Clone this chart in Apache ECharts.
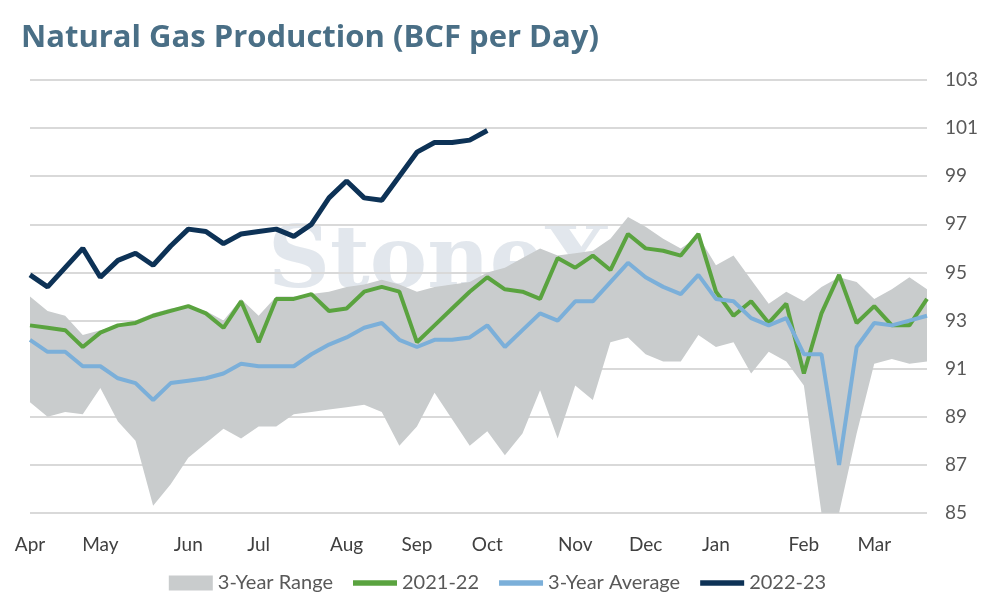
<!DOCTYPE html>
<html>
<head>
<meta charset="utf-8">
<script src="https://cdn.jsdelivr.net/npm/echarts@6/dist/echarts.min.js"></script>
<style>html,body{margin:0;padding:0;background:#fff}#main{width:995px;height:606px}</style>
</head>
<body>
<div id="main"></div>
<script>
// month label positions on 52 weekly points
var monthAt = {0: 'Apr', 4: 'May', 9: 'Jun', 13: 'Jul', 18: 'Aug', 22: 'Sep', 26: 'Oct',
    31: 'Nov', 35: 'Dec', 39: 'Jan', 44: 'Feb', 48: 'Mar'};
var weeks = [];
for (var i = 0; i < 52; i++) weeks.push(monthAt[i] || '');

var rangeLow = [89.6, 89.0, 89.2, 89.1, 90.2, 88.8, 88.0, 85.3, 86.2, 87.3, 87.9, 88.5, 88.1, 88.6,
    88.6, 89.1, 89.2, 89.3, 89.4, 89.5, 89.2, 87.8, 88.6, 90.0, 88.9, 87.8, 88.4, 87.4, 88.3, 90.1,
    88.1, 90.3, 89.7, 92.1, 92.3, 91.6, 91.3, 91.3, 92.4, 91.9, 92.1, 90.8, 91.7, 91.3, 90.3, 85.0,
    85.0, 88.3, 91.2, 91.4, 91.2, 91.3];
var rangeHigh = [94.0, 93.4, 93.2, 92.4, 92.6, 92.8, 93.0, 93.3, 93.5, 93.6, 93.4, 93.0, 93.9, 93.2,
    94.0, 94.0, 94.1, 94.2, 94.4, 94.5, 94.7, 94.5, 94.2, 94.4, 94.5, 94.6, 95.0, 95.2, 95.6, 96.0,
    95.7, 95.8, 95.9, 96.4, 97.3, 96.9, 96.4, 96.0, 96.5, 95.3, 95.7, 94.7, 93.7, 94.2, 93.8, 94.4,
    94.8, 94.6, 93.9, 94.3, 94.8, 94.3];
var y2021 = [92.8, 92.7, 92.6, 91.9, 92.5, 92.8, 92.9, 93.2, 93.4, 93.6, 93.3, 92.7, 93.8, 92.1,
    93.9, 93.9, 94.1, 93.4, 93.5, 94.2, 94.4, 94.2, 92.1, 92.8, 93.5, 94.2, 94.8, 94.3, 94.2, 93.9,
    95.6, 95.2, 95.7, 95.1, 96.6, 96.0, 95.9, 95.7, 96.6, 94.2, 93.2, 93.8, 92.9, 93.7, 90.8, 93.3,
    94.9, 92.9, 93.6, 92.8, 92.8, 93.9];
var avg3 = [92.2, 91.7, 91.7, 91.1, 91.1, 90.6, 90.4, 89.7, 90.4, 90.5, 90.6, 90.8, 91.2, 91.1,
    91.1, 91.1, 91.6, 92.0, 92.3, 92.7, 92.9, 92.2, 91.9, 92.2, 92.2, 92.3, 92.8, 91.9, 92.6, 93.3,
    93.0, 93.8, 93.8, 94.6, 95.4, 94.8, 94.4, 94.1, 94.9, 93.9, 93.8, 93.1, 92.8, 93.1, 91.6, 91.6,
    87.0, 91.9, 92.9, 92.8, 93.0, 93.2];
var y2022 = [94.9, 94.4, 95.2, 96.0, 94.8, 95.5, 95.8, 95.3, 96.1, 96.8, 96.7, 96.2, 96.6, 96.7,
    96.8, 96.5, 97.0, 98.1, 98.8, 98.1, 98.0, 99.0, 100.0, 100.4, 100.4, 100.5, 100.9];
var yTicks = [85, 103, 2];

var rangeSpan = rangeHigh.map(function (v, i) { return +(v - rangeLow[i]).toFixed(2); });
var lineIcon = 'path://M0,0 L40,0 L40,5 L0,5 Z';

var myChart = echarts.init(document.getElementById('main'));
var option = {
    animation: false,
    textStyle: {fontFamily: 'Lato'},
    title: {
        text: 'Natural Gas Production (BCF per Day)',
        left: 16, top: 18,
        textStyle: {color: '#4a6f86', fontSize: 31, fontWeight: 'bold', fontFamily: 'Open Sans'}
    },
    graphic: [{
        type: 'text', left: 268, top: 222, z: -1,
        style: {text: 'StoneX', fill: 'rgba(160,175,195,0.3)', font: 'bold 86px "DejaVu Serif"'}
    }],
    legend: {
        bottom: 8, left: 'center', itemGap: 20, itemWidth: 44, itemHeight: 15,
        textStyle: {color: '#595959', fontSize: 20},
        data: [
            {name: '3-Year Range', icon: 'rect', itemStyle: {color: '#c9cccd'}},
            {name: '2021-22', icon: lineIcon, itemHeight: 4},
            {name: '3-Year Average', icon: lineIcon, itemHeight: 4},
            {name: '2022-23', icon: lineIcon, itemHeight: 5}
        ]
    },
    grid: {left: 30, right: 68, top: 80, bottom: 93},
    xAxis: {
        type: 'category', boundaryGap: false, data: weeks,
        axisLine: {show: false}, axisTick: {show: false},
        axisLabel: {interval: 0, color: '#404040', fontSize: 19, margin: 22}
    },
    yAxis: {
        type: 'value', position: 'right', min: yTicks[0], max: yTicks[1], interval: yTicks[2],
        axisLine: {show: false}, axisTick: {show: false},
        axisLabel: {color: '#595959', fontSize: 19, margin: 18},
        splitLine: {lineStyle: {color: '#d9d9d9', width: 2}}
    },
    series: [{
        name: 'rangeBase', type: 'line', stack: 'r', data: rangeLow, symbol: 'none',
        lineStyle: {opacity: 0}, silent: true
    }, {
        name: '3-Year Range', type: 'line', stack: 'r', data: rangeSpan, symbol: 'none',
        lineStyle: {opacity: 0}, areaStyle: {color: '#c9cccd', opacity: 1}, itemStyle: {color: '#c9cccd'}
    }, {
        name: '2021-22', type: 'line', data: y2021, symbol: 'none',
        lineStyle: {color: '#5aa33f', width: 4}, itemStyle: {color: '#5aa33f'}
    }, {
        name: '3-Year Average', type: 'line', data: avg3, symbol: 'none',
        lineStyle: {color: '#7bafd9', width: 4}, itemStyle: {color: '#7bafd9'}
    }, {
        name: '2022-23', type: 'line', data: y2022, symbol: 'none',
        lineStyle: {color: '#0d3256', width: 5}, itemStyle: {color: '#0d3256'}
    }]
};
myChart.setOption(option);
</script>
</body>
</html>
